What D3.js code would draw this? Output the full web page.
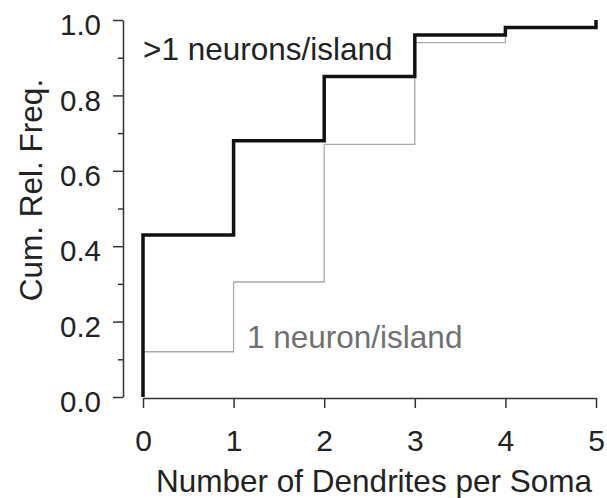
<!DOCTYPE html>
<meta charset="utf-8">
<title>cumulative dendrites</title>
<head>
<style>
body { margin: 0; background: #fff; }
svg { font-family: "Liberation Sans", Arial, sans-serif; }
.axis path, .axis line { stroke: #333; stroke-width: 1.5; }
.axis text { font-size: 29.5px; fill: #222; }
.step { fill: none; }
</style>
<script src="https://cdn.jsdelivr.net/npm/d3@7"></script>
</head>
<body>
<div id="chart"></div>
<script>
// number of dendrites per soma (x) and cumulative relative frequency
var counts = [0, 1, 2, 3, 4, 5];
var multi = [0.43, 0.68, 0.85, 0.96, 0.98, 1.0];   // >1 neurons/island
var single = [0.12, 0.305, 0.67, 0.94, 0.98, 1.0]; // 1 neuron/island
var yTicks = [0, 0.2, 0.4, 0.6, 0.8, 1.0];
var yMinor = [0.1, 0.3, 0.5, 0.7, 0.9];

var width = 607, height = 498;

var svg = d3.select("#chart").append("svg")
    .attr("width", width)
    .attr("height", height);

var x = d3.scaleLinear().domain([0, 5]).range([143, 596]);
var y = d3.scaleLinear().domain([0, 1]).range([397, 20]);

// y axis, detached to the left
var yAxis = svg.append("g")
    .attr("class", "axis")
    .attr("transform", "translate(123,0)")
    .call(d3.axisLeft(y).tickValues(yTicks).tickSize(10).tickSizeOuter(0)
      .tickPadding(12).tickFormat(d3.format(".1f")));
yAxis.selectAll("text").attr("dy", "0.5em");

svg.append("g")
    .attr("class", "axis")
    .attr("transform", "translate(123,0)")
    .call(d3.axisLeft(y).tickValues(yMinor).tickSize(5).tickFormat(""))
  .select(".domain").remove();

// x axis
var xAxis = svg.append("g")
    .attr("class", "axis")
    .attr("transform", "translate(0,398)")
    .call(d3.axisBottom(x).tickValues(counts).tickSize(10).tickSizeOuter(0)
      .tickPadding(22).tickFormat(d3.format("d")));
xAxis.selectAll("text").style("font-size", "30px");

function stepPoints(vals) {
  var pts = [[0, 0]];
  vals.forEach(function(v, i) { pts.push([counts[i], v]); });
  return pts;
}

var line = d3.line()
    .x(function(d) { return x(d[0]); })
    .y(function(d) { return y(d[1]); })
    .curve(d3.curveStepAfter);

svg.append("path")
    .attr("class", "step")
    .attr("d", line(stepPoints(single)))
    .style("stroke", "#aaa")
    .style("stroke-width", 1.3);

svg.append("path")
    .attr("class", "step")
    .attr("d", line(stepPoints(multi)))
    .style("stroke", "#111")
    .style("stroke-width", 3.5);

// labels
svg.append("text")
    .attr("x", 143).attr("y", 60)
    .style("font-size", "31.5px").style("fill", "#222")
    .text(">1 neurons/island");

svg.append("text")
    .attr("x", 247).attr("y", 348)
    .style("font-size", "31.5px").style("fill", "#707070")
    .text("1 neuron/island");

svg.append("text")
    .attr("x", 374).attr("y", 492)
    .attr("text-anchor", "middle")
    .style("font-size", "31.5px").style("fill", "#222")
    .text("Number of Dendrites per Soma");

svg.append("text")
    .attr("transform", "translate(42,190) rotate(-90)")
    .attr("text-anchor", "middle")
    .style("font-size", "31.5px").style("fill", "#222")
    .text("Cum. Rel. Freq.");
</script>
</body>
</html>
